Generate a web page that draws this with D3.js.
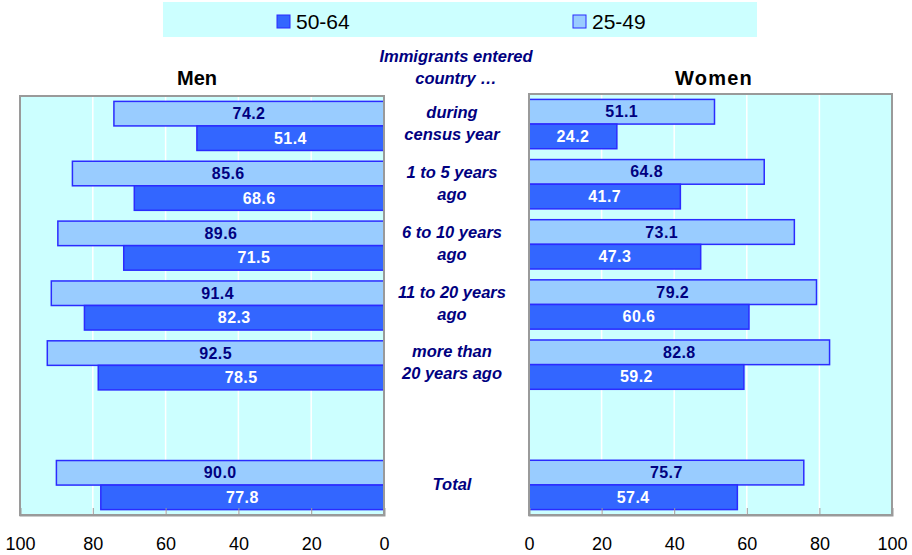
<!DOCTYPE html>
<html>
<head>
<meta charset="utf-8">
<script src="https://cdn.jsdelivr.net/npm/d3@7"></script>
<style>
  html, body { margin: 0; padding: 0; background: #ffffff; }
  svg { display: block; font-family: Arial, "Liberation Sans", sans-serif; }
</style>
</head>
<body>
<svg id="chart" width="912" height="555"></svg>
<script>
// Period of arrival (two-line labels), an empty spacer row, then the total
const categories = [
  "during|census year",
  "1 to 5 years|ago",
  "6 to 10 years|ago",
  "11 to 20 years|ago",
  "more than|20 years ago",
  "",
  "Total"
];
const seriesNames = ["25-49", "50-64"];
const men2549   = [74.2, 85.6, 89.6, 91.4, 92.5, null, 90.0];
const men5064   = [51.4, 68.6, 71.5, 82.3, 78.5, null, 77.8];
const women2549 = [51.1, 64.8, 73.1, 79.2, 82.8, null, 75.7];
const women5064 = [24.2, 41.7, 47.3, 60.6, 59.2, null, 57.4];
const tickValues = [0, 20, 40, 60, 80, 100];
const panelTitles = ["Men", "Women"];
const headerLines = ["Immigrants entered", "country \u2026"];

const svg = d3.select("#chart");

const colors = { "25-49": "#99ccff", "50-64": "#3366ff" };
const labelColors = { "25-49": "#000080", "50-64": "#ffffff" };
const barStroke = "#2b2bff";
const navy = "#000080";

// Legend band across the top
const legend = svg.append("g");
legend.append("rect")
  .attr("x", 163).attr("y", 2).attr("width", 594).attr("height", 35)
  .attr("fill", "#ccffff");
const legendItems = [
  { name: "50-64", x: 277 },
  { name: "25-49", x: 573 }
];
legendItems.forEach(d => {
  legend.append("rect")
    .attr("x", d.x).attr("y", 15).attr("width", 13).attr("height", 13)
    .attr("fill", colors[d.name]).attr("stroke", barStroke).attr("stroke-width", 1);
  legend.append("text")
    .attr("x", d.x + 19).attr("y", 29)
    .attr("font-size", 21).attr("fill", "#000")
    .text(d.name);
});

// Header above the centre labels
headerLines.forEach((t, i) => {
  svg.append("text")
    .attr("x", 456).attr("y", 62 + i * 22)
    .attr("text-anchor", "middle")
    .attr("font-size", 16.5).attr("font-weight", "bold").attr("font-style", "italic")
    .attr("fill", navy)
    .text(t);
});

function drawPanel(opts) {
  const { left, right, top, bottom, mirrored, a, b, title, titleX, spacing } = opts;

  const x = d3.scaleLinear().domain([0, 100])
    .range(mirrored ? [right, left] : [left, right]);
  const y = d3.scaleBand().domain(categories).range([top, bottom])
    .paddingInner(0.18).paddingOuter(0.09);
  const ySub = d3.scaleBand().domain(seriesNames).range([0, y.bandwidth()]);

  const g = svg.append("g");

  g.append("rect")
    .attr("x", left).attr("y", top)
    .attr("width", right - left).attr("height", bottom - top)
    .attr("fill", "#ccffff");

  // white vertical gridlines
  g.selectAll("line.grid")
    .data(tickValues.filter(v => v > 0 && v < 100))
    .join("line")
    .attr("x1", d => x(d)).attr("x2", d => x(d))
    .attr("y1", top).attr("y2", bottom)
    .attr("stroke", "#ffffff").attr("stroke-width", 1.5);

  const rows = categories.map((c, i) => ({ c, "25-49": a[i], "50-64": b[i] }));
  const bars = [];
  rows.forEach(r => seriesNames.forEach(s => {
    if (r[s] != null) bars.push({ c: r.c, s, v: r[s] });
  }));

  const x0 = x(0);
  g.selectAll("rect.bar")
    .data(bars)
    .join("rect")
    .attr("x", d => Math.min(x0, x(d.v)))
    .attr("width", d => Math.abs(x(d.v) - x0))
    .attr("y", d => y(d.c) + ySub(d.s))
    .attr("height", ySub.bandwidth())
    .attr("fill", d => colors[d.s])
    .attr("stroke", barStroke).attr("stroke-width", 1.5);

  g.selectAll("text.val")
    .data(bars)
    .join("text")
    .attr("x", d => (x0 + x(d.v)) / 2)
    .attr("y", d => y(d.c) + ySub(d.s) + ySub.bandwidth() / 2 + 5.5)
    .attr("text-anchor", "middle")
    .attr("font-size", 16).attr("font-weight", "bold")
    .attr("letter-spacing", 0.4)
    .attr("fill", d => labelColors[d.s])
    .text(d => d3.format(".1f")(d.v));

  // frame
  g.append("rect")
    .attr("x", left).attr("y", top)
    .attr("width", right - left).attr("height", bottom - top)
    .attr("fill", "none").attr("stroke", "#9a9a9a").attr("stroke-width", 2);

  // value axis with inward ticks
  const axis = d3.axisBottom(x).tickValues(tickValues)
    .tickSize(-7).tickPadding(22).tickFormat(d3.format("d"));
  const ax = g.append("g").attr("transform", `translate(0,${bottom})`).call(axis);
  ax.select(".domain").attr("stroke", "#9a9a9a").attr("stroke-width", 2);
  ax.selectAll(".tick line").attr("stroke", "#9a9a9a").attr("stroke-width", 1);
  ax.selectAll(".tick text")
    .attr("font-size", 18).attr("fill", "#000")
    .attr("font-family", "Arial, 'Liberation Sans', sans-serif");

  g.append("text")
    .attr("x", titleX).attr("y", 85)
    .attr("text-anchor", "middle")
    .attr("font-size", 20).attr("font-weight", "bold").attr("fill", "#000")
    .attr("letter-spacing", spacing)
    .text(title);

  return y;
}

const yMen = drawPanel({
  left: 20, right: 384, top: 96, bottom: 515, mirrored: true,
  a: men2549, b: men5064, title: panelTitles[0], titleX: 197, spacing: 0
});
drawPanel({
  left: 529, right: 892, top: 94, bottom: 515, mirrored: false,
  a: women2549, b: women5064, title: panelTitles[1], titleX: 714, spacing: 1.2
});

// centre category labels
categories.forEach(c => {
  if (!c) return;
  const lines = c.split("|");
  const cy = yMen(c) + yMen.bandwidth() / 2;
  const start = lines.length === 1 ? cy + 5 : cy - 8;
  lines.forEach((t, i) => {
    svg.append("text")
      .attr("x", 452).attr("y", start + i * 22)
      .attr("text-anchor", "middle")
      .attr("font-size", 16.5).attr("font-weight", "bold").attr("font-style", "italic")
      .attr("fill", navy)
      .text(t);
  });
});
</script>
</body>
</html>
